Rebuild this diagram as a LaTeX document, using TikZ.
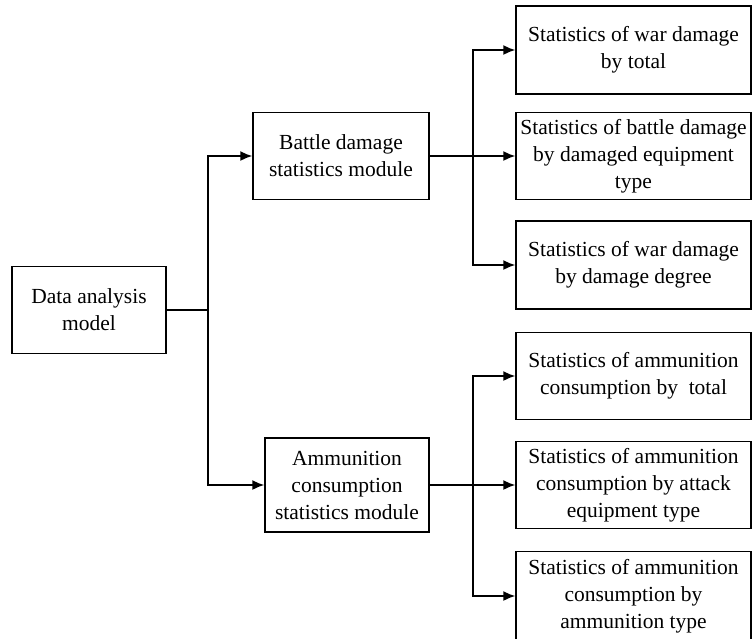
\documentclass[tikz,border=0pt]{standalone}
\usepackage{fontspec}
\setmainfont{Liberation Serif}
\usetikzlibrary{arrows.meta}
\begin{document}
\begin{tikzpicture}[x=1pt,y=-1pt,
  box/.style={draw=black, line width=1.3pt, fill=white, align=center, inner sep=2pt,
    font=\fontsize{21.5}{27}\selectfont},
  link/.style={draw=black, line width=1.8pt},
  arr/.style={link, -{Latex[length=12pt,width=10pt]}}]
\useasboundingbox (0,0) rectangle (752,638);
\begin{scope}
\clip (0,0) rectangle (752,638);
% left column
\node[box, minimum width=154pt, minimum height=87pt] (data) at (89,310) {Data analysis\\model};
% middle column
\node[box, minimum width=176pt, minimum height=87pt] (battle) at (341,156) {Battle damage\\statistics module};
\node[box, minimum width=164pt, minimum height=94pt] (ammo) at (347,485) {Ammunition\\consumption\\statistics module};
% right column
\node[box, minimum width=235pt, minimum height=88pt] (r1) at (633.5,50) {Statistics of war damage\\by total};
\node[box, minimum width=235pt, minimum height=87pt] (r2) at (633.5,156) {Statistics of battle damage\\by damaged equipment\\type};
\node[box, minimum width=235pt, minimum height=88pt] (r3) at (633.5,265) {Statistics of war damage\\by damage degree};
\node[box, minimum width=235pt, minimum height=87pt] (r4) at (633.5,376) {Statistics of ammunition\\consumption by\ \ total};
\node[box, minimum width=235pt, minimum height=87pt] (r5) at (633.5,485) {Statistics of ammunition\\consumption by attack\\equipment type};
\node[box, minimum width=235pt, minimum height=89pt] (r6) at (633.5,596) {Statistics of ammunition\\consumption by\\ammunition type};
% branch points
\coordinate (c1) at (208,310);
\coordinate (b1) at (473,156);
\coordinate (a1) at (473,485);
% connectors
\draw[link] (data.east) -- (c1);
\draw[arr] (c1) |- (battle.west);
\draw[arr] (c1) |- (ammo.west);
\draw[arr] (battle.east) -- (r2.west);
\draw[arr] (b1) |- (r1.west);
\draw[arr] (b1) |- (r3.west);
\draw[arr] (ammo.east) -- (r5.west);
\draw[arr] (a1) |- (r4.west);
\draw[arr] (a1) |- (r6.west);
\end{scope}
\end{tikzpicture}
\end{document}
